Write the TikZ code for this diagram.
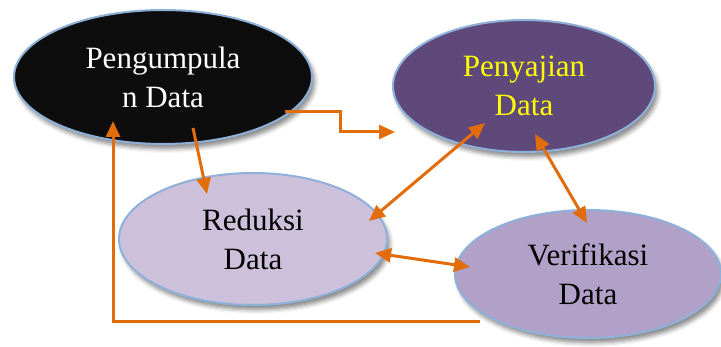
\documentclass[tikz,border=0pt]{standalone}
\usepackage{fontspec}
\setmainfont{Liberation Serif}
\usetikzlibrary{shapes.geometric,arrows.meta,shadows.blur}
\definecolor{edgeblue}{HTML}{8EB1DA}
\definecolor{orng}{HTML}{E36C0A}
\definecolor{blackfill}{HTML}{0D0D0D}
\definecolor{darkpurple}{HTML}{5F497A}
\definecolor{lightlav}{HTML}{CCC0DA}
\definecolor{midlav}{HTML}{B1A0C7}
\definecolor{yell}{HTML}{FFFF00}
\tikzset{
  oval/.style={ellipse, draw=edgeblue, line width=2pt, inner sep=0pt, align=center,
    font=\fontsize{31}{39}\selectfont,
    blur shadow={shadow xshift=3pt, shadow yshift=-5pt, shadow blur radius=4pt, shadow opacity=45}},
  arr/.style={draw=orng, line width=3pt, -{Triangle[length=16pt,width=14pt]}},
  dblarr/.style={draw=orng, line width=3pt, {Triangle[length=16pt,width=14pt]}-{Triangle[length=16pt,width=14pt]}}
}
\begin{document}
\begin{tikzpicture}[x=1pt,y=-1pt]
\useasboundingbox (0,0) rectangle (721,347);
\node[oval, fill=blackfill, text=white, minimum width=298pt, minimum height=134pt] (pg) at (163,77) {Pengumpula\\n Data};
\node[oval, fill=darkpurple, text=yell, minimum width=262pt, minimum height=132pt] (py) at (524,86) {Penyajian\\Data};
\node[oval, fill=lightlav, text=black, minimum width=268pt, minimum height=132pt] (rd) at (253,239) {Reduksi\\Data};
\node[oval, fill=midlav, text=black, minimum width=266pt, minimum height=128pt] (vf) at (588,274) {Verifikasi\\Data};
% connector end points
\coordinate (pgOut) at (285,112);
\coordinate (pyIn) at (395,132);
\coordinate (pgDown) at (193,128);
\coordinate (rdTop) at (207,194);
\coordinate (rdUR) at (369,221);
\coordinate (pyLL) at (485,123);
\coordinate (pyLR) at (535,134);
\coordinate (vfTop) at (587,223);
\coordinate (rdR) at (375,253);
\coordinate (vfL) at (470,267);
\coordinate (vfOut) at (480,322);
\coordinate (pgIn) at (113,121);
% connectors
\draw[arr] (pgOut) -- (340,112) -- (340,132) -- (pyIn);
\draw[arr] (pgDown) -- (rdTop);
\draw[dblarr] (rdUR) -- (pyLL);
\draw[dblarr] (pyLR) -- (vfTop);
\draw[dblarr] (rdR) -- (vfL);
\draw[arr] (vfOut) -| (pgIn);
\end{tikzpicture}
\end{document}
